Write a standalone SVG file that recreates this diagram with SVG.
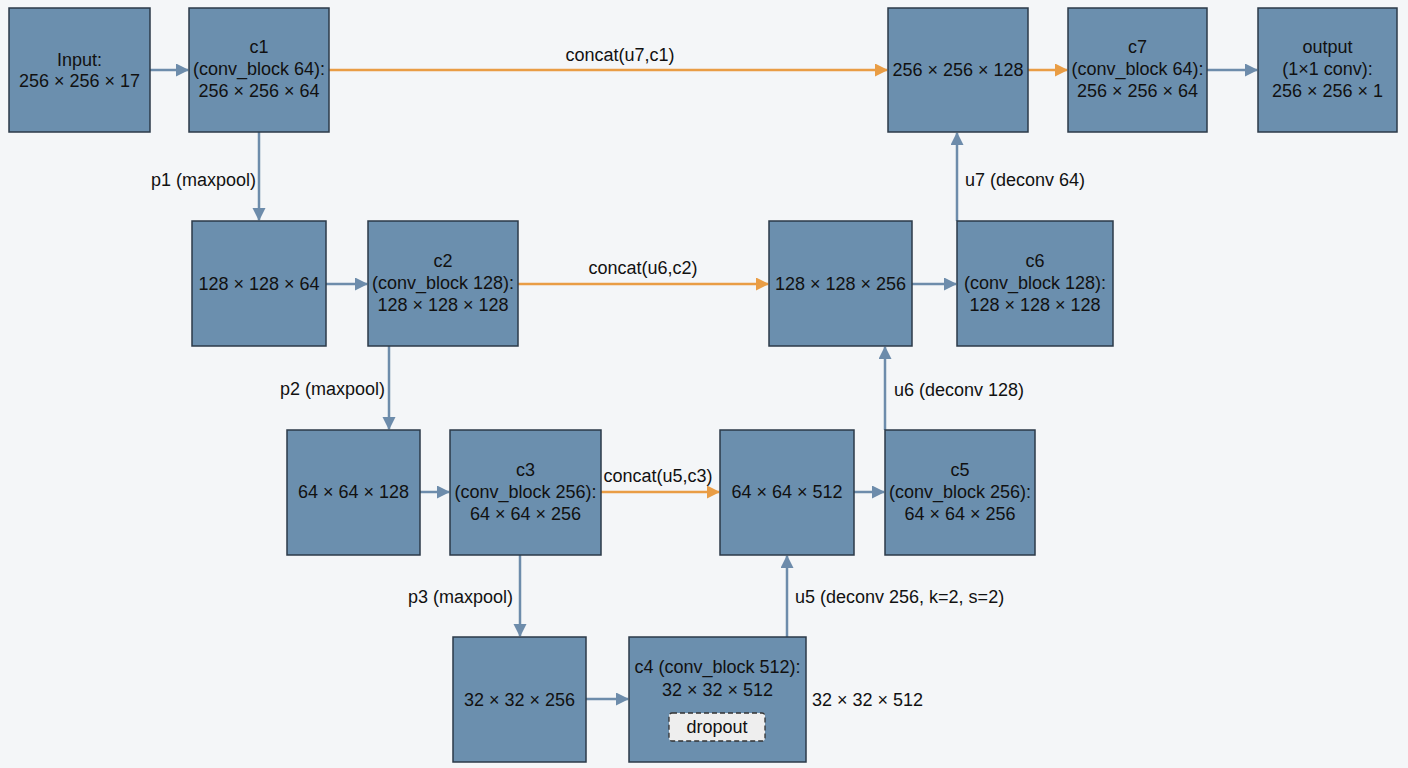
<svg xmlns="http://www.w3.org/2000/svg" width="1408" height="768" viewBox="0 0 1408 768">
<defs>
<style>
.box{fill:#6b8fae;stroke:#2b3a48;stroke-width:1.5}
.t{font-family:"Liberation Sans",Arial,sans-serif;font-size:18px;fill:#111;text-anchor:middle}
.l{font-family:"Liberation Sans",Arial,sans-serif;font-size:18px;fill:#111}
.b{stroke:#6d8cab;stroke-width:2.5;fill:none}
.o{stroke:#e99d45;stroke-width:2.5;fill:none}
</style>
<marker id="ab" markerUnits="userSpaceOnUse" markerWidth="14" markerHeight="14" refX="12" refY="6.5" orient="auto"><path d="M0,0 L13,6.5 L0,13 z" fill="#6d8cab"/></marker>
<marker id="ao" markerUnits="userSpaceOnUse" markerWidth="14" markerHeight="14" refX="12" refY="6.5" orient="auto"><path d="M0,0 L13,6.5 L0,13 z" fill="#e99d45"/></marker>
</defs>
<rect width="1408" height="768" fill="#f4f6f8"/>
<g id="connectors">
<line class="b" x1="150" y1="70" x2="188" y2="70" marker-end="url(#ab)"/>
<line class="o" x1="329" y1="70" x2="887" y2="70" marker-end="url(#ao)"/>
<line class="o" x1="1028" y1="70" x2="1067" y2="70" marker-end="url(#ao)"/>
<line class="b" x1="1207" y1="70" x2="1257" y2="70" marker-end="url(#ab)"/>
<line class="b" x1="259" y1="132" x2="259" y2="220" marker-end="url(#ab)"/>
<line class="b" x1="326" y1="284" x2="367" y2="284" marker-end="url(#ab)"/>
<line class="o" x1="518" y1="284" x2="768" y2="284" marker-end="url(#ao)"/>
<line class="b" x1="912" y1="284" x2="956" y2="284" marker-end="url(#ab)"/>
<line class="b" x1="957" y1="221" x2="957" y2="133" marker-end="url(#ab)"/>
<line class="b" x1="389" y1="346" x2="389" y2="429" marker-end="url(#ab)"/>
<line class="b" x1="420" y1="492" x2="449" y2="492" marker-end="url(#ab)"/>
<line class="o" x1="601" y1="492" x2="719" y2="492" marker-end="url(#ao)"/>
<line class="b" x1="854" y1="492" x2="884" y2="492" marker-end="url(#ab)"/>
<line class="b" x1="885" y1="430" x2="885" y2="347" marker-end="url(#ab)"/>
<line class="b" x1="520" y1="555" x2="520" y2="636" marker-end="url(#ab)"/>
<line class="b" x1="586" y1="699" x2="628" y2="699" marker-end="url(#ab)"/>
<line class="b" x1="787" y1="637" x2="787" y2="556" marker-end="url(#ab)"/>
<text class="t" x="620" y="61">concat(u7,c1)</text>
<text class="l" x="256" y="186" text-anchor="end">p1 (maxpool)</text>
<text class="t" x="643" y="274">concat(u6,c2)</text>
<text class="l" x="965" y="186">u7 (deconv 64)</text>
<text class="l" x="385" y="395" text-anchor="end">p2 (maxpool)</text>
<text class="t" x="658" y="482">concat(u5,c3)</text>
<text class="l" x="894" y="396">u6 (deconv 128)</text>
<text class="l" x="513" y="603" text-anchor="end">p3 (maxpool)</text>
<text class="l" x="795" y="603">u5 (deconv 256, k=2, s=2)</text>
<text class="l" x="812" y="706">32 × 32 × 512</text>
</g>
<g id="input"><rect class="box" x="9" y="8" width="141" height="124"/><text class="t" x="79.5" y="66">Input:</text><text class="t" x="79.5" y="87">256 × 256 × 17</text></g>
<g id="c1"><rect class="box" x="189" y="8" width="140" height="124"/><text class="t" x="259" y="53">c1</text><text class="t" x="259" y="75">(conv_block 64):</text><text class="t" x="259" y="97">256 × 256 × 64</text></g>
<g id="cat7"><rect class="box" x="888" y="8" width="140" height="124"/><text class="t" x="958" y="76">256 × 256 × 128</text></g>
<g id="c7"><rect class="box" x="1068" y="8" width="139" height="124"/><text class="t" x="1137.5" y="53">c7</text><text class="t" x="1137.5" y="75">(conv_block 64):</text><text class="t" x="1137.5" y="97">256 × 256 × 64</text></g>
<g id="output"><rect class="box" x="1258" y="8" width="139" height="124"/><text class="t" x="1327.5" y="53">output</text><text class="t" x="1327.5" y="75">(1×1 conv):</text><text class="t" x="1327.5" y="97">256 × 256 × 1</text></g>
<g id="p1"><rect class="box" x="192" y="221" width="134" height="125"/><text class="t" x="259" y="290">128 × 128 × 64</text></g>
<g id="c2"><rect class="box" x="368" y="221" width="150" height="125"/><text class="t" x="443" y="267">c2</text><text class="t" x="443" y="289">(conv_block 128):</text><text class="t" x="443" y="311">128 × 128 × 128</text></g>
<g id="cat6"><rect class="box" x="769" y="221" width="143" height="125"/><text class="t" x="840.5" y="290">128 × 128 × 256</text></g>
<g id="c6"><rect class="box" x="957" y="221" width="156" height="125"/><text class="t" x="1035" y="267">c6</text><text class="t" x="1035" y="289">(conv_block 128):</text><text class="t" x="1035" y="311">128 × 128 × 128</text></g>
<g id="p2"><rect class="box" x="287" y="430" width="133" height="125"/><text class="t" x="353.5" y="498">64 × 64 × 128</text></g>
<g id="c3"><rect class="box" x="450" y="430" width="151" height="125"/><text class="t" x="525.5" y="476">c3</text><text class="t" x="525.5" y="498">(conv_block 256):</text><text class="t" x="525.5" y="520">64 × 64 × 256</text></g>
<g id="cat5"><rect class="box" x="720" y="430" width="134" height="125"/><text class="t" x="787" y="498">64 × 64 × 512</text></g>
<g id="c5"><rect class="box" x="885" y="430" width="150" height="125"/><text class="t" x="960" y="476">c5</text><text class="t" x="960" y="498">(conv_block 256):</text><text class="t" x="960" y="520">64 × 64 × 256</text></g>
<g id="p3"><rect class="box" x="453" y="637" width="133" height="125"/><text class="t" x="519.5" y="706">32 × 32 × 256</text></g>
<g id="c4"><rect class="box" x="629" y="637" width="177" height="125"/><text class="t" x="717.5" y="673">c4 (conv_block 512):</text><text class="t" x="717.5" y="696">32 × 32 × 512</text><rect x="669" y="713" width="96" height="28" rx="3" fill="#eeeeee" stroke="#333" stroke-width="1.3" stroke-dasharray="5,3"/><text class="t" x="717" y="733">dropout</text></g>
</svg>
